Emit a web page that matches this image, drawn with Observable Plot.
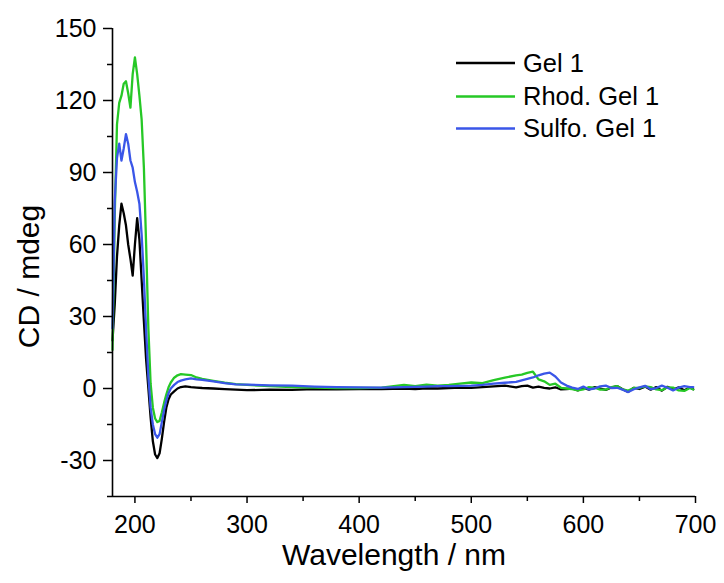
<!DOCTYPE html>
<html><head><meta charset="utf-8">
<script src="https://cdn.jsdelivr.net/npm/d3@7"></script>
<script src="https://cdn.jsdelivr.net/npm/@observablehq/plot@0.6"></script>
<style>body{margin:0;background:#fff;}</style>
</head><body><div id="chart"></div>
<script>
const wavelength = [
  180,182,184,186,188,190,192,194,196,198,
  200,202,204,206,208,210,212,214,216,218,
  220,222,224,226,228,230,232,235,238,241,
  245,250,255,260,270,280,290,300,320,340,
  360,380,400,420,440,450,460,470,480,490,
  500,510,520,530,540,545,550,555,560,565,
  570,575,580,585,590,595,600,605,610,615,
  620,625,630,635,640,645,650,655,660,665,
  670,675,680,685,690,695,698
];
const gel1 = [
  20,35,55,68,77,73,68,60,54,47,
  60,71,62,45,28,12,0,-12,-22,-27.5,
  -29,-27,-21,-14,-8,-4.5,-2.5,-1.2,0,0.6,
  0.9,0.6,0.4,0.2,0,-0.3,-0.5,-0.7,-0.5,-0.6,
  -0.3,-0.4,-0.2,-0.3,0,-0.2,0.1,0,0.2,0.4,
  0.3,0.6,0.9,1.2,0.5,1,1.2,0.4,0.8,0.3,
  0,0.5,-0.4,-0.2,0,-0.8,0.2,-0.5,0.6,0,
  -0.6,0.4,1,-0.3,-1.4,0.3,-0.2,0.8,-0.5,0.6,
  -0.9,0.7,-0.4,0.5,-0.7,0.4,-0.3
];
const rhodGel1 = [
  16,72,110,119,122,127,128,123,117,131,
  138,131,122,112,92,60,25,2,-8,-12.5,
  -14,-13.5,-10,-6,-2.5,0.5,2.5,4.5,5.5,6,
  5.8,5.6,4.6,4,3.2,2.4,1.8,1.5,1,0.6,
  0.4,0.2,0.2,0.4,1.5,1,1.6,1.2,1.5,2,
  2.5,2.2,3.5,4.5,5.5,5.8,6.5,7,3.8,3,
  1.5,2,0.3,0,-0.3,-0.8,-0.4,0.6,0.3,-0.5,
  -0.5,0.6,1,-0.4,-0.9,0.2,0.2,0.9,0.6,-0.4,
  -0.7,0.5,0.4,-0.8,-1,0.2,-0.4
];
const sulfoGel1 = [
  25,78,96,102,95,100,106,102,95,92,
  86,82,77,64,46,24,5,-8,-15,-19,
  -20.5,-19,-14,-9,-5,-2,0,1.5,2.7,3.3,
  3.8,4.2,3.8,3.6,3,2.2,1.7,1.6,1.3,1.2,
  0.8,0.6,0.5,0.4,0.6,0.7,0.8,1,1,1.1,
  1.2,1.5,2,2.4,2.8,3.4,4,4.6,5.5,6.2,
  6.6,5,2.5,1.2,0.4,-0.2,0.8,-0.4,0,0.9,
  1.2,0.2,0.3,-0.5,-1.5,-0.3,0.5,1.1,-0.3,0.2,
  1.2,0.3,-0.8,0.4,1,0.6,0.6
];
const seriesNames = ["Gel 1", "Rhod. Gel 1", "Sulfo. Gel 1"];
const seriesColors = ["#000000", "#26c826", "#3a56e8"];
const yMajorTicks = [-30, 0, 30, 60, 90, 120, 150];
const yMinorTicks = [-45, -15, 15, 45, 75, 105, 135];
const xMajorTicks = [200, 300, 400, 500, 600, 700];
const xMinorTicks = [250, 350, 450, 550, 650];
const xTitle = "Wavelength / nm";
const yTitle = "CD / mdeg";

const seriesValues = [gel1, rhodGel1, sulfoGel1];
const rows = seriesNames.flatMap((name, i) =>
  wavelength.map((w, j) => ({series: name, wavelength: w, cd: seriesValues[i][j]})));

const font = "'Liberation Sans', Arial, sans-serif";
const chart = Plot.plot({
  width: 724, height: 583,
  marginLeft: 112, marginRight: 29, marginTop: 28, marginBottom: 87,
  style: {fontFamily: font, background: "#fff", color: "#000", overflow: "visible"},
  x: {domain: [180, 700]},
  y: {domain: [-45, 150]},
  color: {domain: seriesNames, range: seriesColors},
  marks: [
    Plot.line(rows, {x: "wavelength", y: "cd", z: "series", stroke: "series", strokeWidth: 2.3, strokeLinejoin: "round"}),
    Plot.ruleX([180], {stroke: "#000", strokeWidth: 1.6}),
    Plot.ruleY([-45], {stroke: "#000", strokeWidth: 1.6}),
    Plot.axisY(yMajorTicks, {tickSize: 9, tickPadding: 7, fontSize: 25, tickFormat: d => String(d), label: null, strokeWidth: 1.5}),
    Plot.axisY(yMinorTicks, {tickSize: 5, text: null, label: null, strokeWidth: 1.5}),
    Plot.axisX(xMajorTicks, {tickSize: 7, tickPadding: 12, fontSize: 25, tickFormat: d => String(d), label: null, strokeWidth: 1.5}),
    Plot.axisX(xMinorTicks, {tickSize: 5, text: null, label: null, strokeWidth: 1.5}),
    Plot.text([yTitle], {text: d => d, frameAnchor: "left", textAnchor: "middle", lineAnchor: "middle", dx: -83, dy: 14, rotate: -90, fontSize: 30, fill: "#000"}),
    Plot.text([xTitle], {text: d => d, frameAnchor: "bottom", textAnchor: "middle", lineAnchor: "middle", dx: -10, dy: 59, fontSize: 30, fill: "#000"})
  ]
});

const svg = d3.select(chart);
const legend = svg.append("g").attr("font-family", font).attr("font-size", 25.5).attr("text-anchor", "start");
const legendY = [63, 96.5, 128.5];
seriesNames.forEach((name, i) => {
  legend.append("line").attr("x1", 456).attr("x2", 515).attr("y1", legendY[i]).attr("y2", legendY[i])
    .attr("stroke", seriesColors[i]).attr("stroke-width", 2.3);
  legend.append("text").attr("x", 523).attr("y", legendY[i]).attr("dy", "0.35em")
    .attr("text-anchor", "start").attr("fill", "#000").text(name);
});

document.getElementById("chart").appendChild(chart);
</script>
</body></html>
